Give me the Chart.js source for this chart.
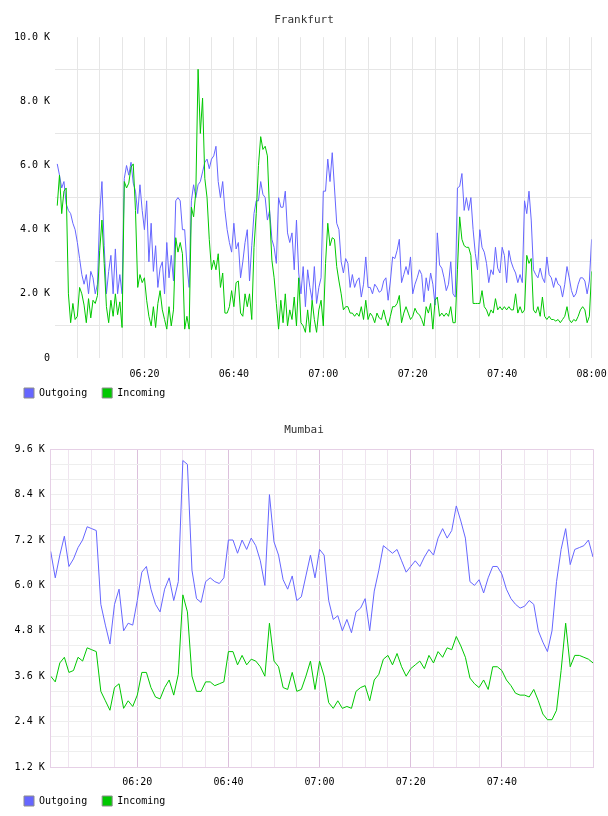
<!DOCTYPE html>
<html>
<head>
<meta charset="utf-8">
<script src="https://cdn.jsdelivr.net/npm/chart.js@4.4.0/dist/chart.umd.min.js"></script>
<style>
  html, body { margin: 0; padding: 0; background: #fff; }
  canvas { display: block; }
</style>
</head>
<body>
<canvas id="frankfurt" width="608" height="410"></canvas>
<canvas id="mumbai" width="608" height="406"></canvas>
<script>
// Frankfurt: una muestra cada 30 s desde 06:00:30 hasta 08:00 (valores en K)
const frankfurtOutgoing = [
  6.05, 5.7, 5.3, 5.5, 4.8, 4.6, 4.5, 4.2, 4.0, 3.6,
  3.1, 2.6, 2.3, 2.6, 2.0, 2.7, 2.5, 2.0, 2.3, 4.5,
  5.5, 3.5, 2.0, 2.7, 3.2, 2.0, 3.4, 2.0, 2.6, 2.0,
  5.6, 6.0, 5.7, 6.1, 5.45, 5.2, 4.5, 5.4, 4.6, 4.0,
  4.9, 3.0, 4.2, 2.7, 3.5, 2.2, 2.8, 3.0, 2.0, 3.6,
  2.5, 3.2, 2.4, 4.9, 5.0, 4.9, 4.0, 4.0, 2.9, 2.2,
  4.9, 5.4, 5.0, 5.4, 5.5, 5.8, 6.1, 6.2, 5.9, 6.2,
  6.3, 6.6, 5.5, 5.0, 5.5, 4.6, 4.0, 3.6, 3.3, 4.2,
  3.4, 3.6, 2.5, 3.0, 3.6, 4.0, 2.4, 3.5, 4.5, 4.9,
  4.9, 5.5, 5.1, 5.0, 4.3, 4.6, 3.7, 3.45, 2.95, 5.0,
  4.7, 4.7, 5.2, 3.9, 3.6, 3.9, 2.75, 4.3, 2.65, 2.0,
  2.85, 1.6, 2.75, 2.2, 1.8, 2.85, 1.7, 2.2, 2.5, 5.2,
  5.2, 6.2, 5.5, 6.4, 5.3, 4.2, 4.0, 3.0, 2.65, 3.1,
  2.95, 2.2, 2.6, 2.2, 2.4, 2.5, 1.9, 2.3, 3.15, 2.2,
  2.2, 2.0, 2.3, 2.2, 2.05, 2.1, 2.4, 2.5, 1.8, 2.4,
  3.15, 3.1, 3.35, 3.7, 2.35, 2.6, 2.85, 2.6, 3.15, 2.0,
  2.3, 2.5, 2.75, 2.6, 1.75, 2.5, 2.1, 2.65, 2.3, 1.65,
  3.9, 2.9, 2.8, 2.5, 2.1, 2.3, 3.0, 2.0, 1.9, 5.3,
  5.35, 5.75, 4.6, 5.0, 4.6, 5.0, 4.0, 3.25, 2.75, 4.0,
  3.45, 3.3, 2.95, 2.35, 2.75, 2.6, 3.45, 2.8, 2.65, 3.45,
  3.2, 2.35, 3.35, 3.0, 2.8, 2.65, 2.35, 2.6, 2.35, 4.9,
  4.5, 5.2, 4.3, 2.75, 2.6, 2.5, 2.8, 2.5, 2.35, 3.15,
  2.6, 2.5, 2.2, 2.5, 2.3, 2.25, 1.9, 2.3, 2.85, 2.5,
  2.1, 1.9, 2.0, 2.3, 2.5, 2.5, 2.4, 2.0, 2.4, 3.7
];
const frankfurtIncoming = [
  4.75, 5.7, 4.5, 5.2, 5.3, 2.0, 1.1, 1.7, 1.2, 1.3,
  2.2, 2.0, 1.65, 1.1, 1.85, 1.25, 1.8, 1.7, 1.95, 3.35,
  4.3, 2.95, 1.6, 1.1, 1.8, 1.3, 2.0, 1.35, 1.75, 0.95,
  5.5, 5.3, 5.45, 5.95, 6.05, 4.6, 2.2, 2.6, 2.35, 2.5,
  1.8, 1.3, 1.0, 1.6, 0.95, 1.7, 2.1, 1.5, 1.2, 0.9,
  1.6, 1.0, 1.5, 3.75, 3.3, 3.6, 3.25, 0.9, 1.3, 0.9,
  4.7, 4.4, 5.2, 9.0, 7.0, 8.1, 5.6, 5.0, 3.7, 2.75,
  3.05, 2.75, 3.25, 2.2, 2.65, 1.4, 1.4, 1.6, 2.1, 1.6,
  2.35, 2.4, 1.4, 1.3, 2.0, 1.6, 2.0, 1.2, 3.45, 4.5,
  6.0, 6.9, 6.5, 6.6, 6.3, 4.5, 3.05, 2.5, 1.7, 0.9,
  1.8, 1.1, 2.0, 1.0, 1.5, 1.2, 1.9, 1.0, 2.5, 1.1,
  1.0, 0.8, 1.5, 0.8, 1.8, 1.2, 0.8, 1.5, 1.8, 1.0,
  2.95, 4.2, 3.5, 3.75, 3.7, 2.85, 2.4, 2.0, 1.5, 1.6,
  1.6, 1.4, 1.4, 1.3, 1.4, 1.3, 1.6, 1.2, 1.8, 1.2,
  1.4, 1.3, 1.1, 1.4, 1.25, 1.2, 1.5, 1.2, 1.0, 1.3,
  1.6, 1.6, 1.7, 1.95, 1.1, 1.4, 1.6, 1.4, 1.2, 1.3,
  1.55, 1.4, 1.35, 1.2, 1.0, 1.6, 1.4, 1.7, 0.9, 1.8,
  1.9, 1.3, 1.4, 1.3, 1.4, 1.3, 1.6, 1.1, 1.1, 2.75,
  4.4, 3.7, 3.5, 3.45, 3.45, 3.2, 1.7, 1.7, 1.7, 1.7,
  2.1, 1.6, 1.5, 1.3, 1.5, 1.4, 1.85, 1.5, 1.6, 1.5,
  1.6, 1.5, 1.6, 1.5, 1.5, 2.0, 1.4, 1.6, 1.4, 1.5,
  3.2, 2.95, 3.1, 1.5, 1.4, 1.6, 1.3, 1.9, 1.3, 1.2,
  1.3, 1.2, 1.2, 1.15, 1.2, 1.1, 1.2, 1.3, 1.6, 1.2,
  1.1, 1.2, 1.15, 1.3, 1.5, 1.6, 1.5, 1.1, 1.3, 2.7
];

// Mumbai: una muestra por minuto desde 06:01 hasta 08:00 (valores en K)
const mumbaiOutgoing = [
  6.9, 6.2, 6.8, 7.3, 6.5, 6.7, 7.0, 7.2, 7.55, 7.5,
  7.45, 5.5, 4.95, 4.45, 5.5, 5.9, 4.8, 5.0, 4.95, 5.6,
  6.35, 6.5, 5.9, 5.5, 5.3, 5.9, 6.2, 5.6, 6.1, 9.3,
  9.2, 6.4, 5.65, 5.55, 6.1, 6.2, 6.1, 6.05, 6.2, 7.2,
  7.2, 6.85, 7.2, 6.95, 7.25, 7.05, 6.65, 6.0, 8.4, 7.15,
  6.8, 6.15, 5.9, 6.25, 5.6, 5.7, 6.25, 6.8, 6.2, 6.95,
  6.8, 5.6, 5.1, 5.2, 4.8, 5.1, 4.75, 5.3, 5.4, 5.65,
  4.8, 5.85, 6.4, 7.05, 6.95, 6.85, 6.95, 6.65, 6.35, 6.5,
  6.65, 6.5, 6.75, 6.95, 6.8, 7.25, 7.5, 7.25, 7.45, 8.1,
  7.7, 7.25, 6.1, 6.0, 6.15, 5.8, 6.2, 6.5, 6.5, 6.3,
  5.9, 5.65, 5.5, 5.4, 5.45, 5.6, 5.5, 4.8, 4.5, 4.25,
  4.8, 6.1, 6.95, 7.5, 6.55, 6.95, 7.0, 7.05, 7.2, 6.75
];
const mumbaiIncoming = [
  3.6, 3.45, 3.95, 4.1, 3.7, 3.75, 4.1, 4.0, 4.35, 4.3,
  4.25, 3.2, 2.95, 2.7, 3.3, 3.4, 2.75, 2.95, 2.8, 3.1,
  3.7, 3.7, 3.3, 3.05, 3.0, 3.3, 3.5, 3.1, 3.65, 5.75,
  5.3, 3.6, 3.2, 3.2, 3.45, 3.45, 3.35, 3.4, 3.45, 4.25,
  4.25, 3.9, 4.15, 3.9, 4.05, 4.0, 3.85, 3.6, 5.0, 4.0,
  3.85, 3.3, 3.25, 3.7, 3.2, 3.25, 3.6, 4.0, 3.25, 4.0,
  3.6, 2.9, 2.75, 2.95, 2.75, 2.8, 2.75, 3.2, 3.3, 3.35,
  2.95, 3.5, 3.65, 4.05, 4.15, 3.9, 4.2, 3.85, 3.6, 3.8,
  3.9, 4.0, 3.8, 4.15, 3.95, 4.25, 4.1, 4.35, 4.3, 4.65,
  4.4, 4.1, 3.55, 3.4, 3.3, 3.5, 3.25, 3.85, 3.85, 3.75,
  3.5, 3.35, 3.15, 3.1, 3.1, 3.05, 3.25, 2.95, 2.6, 2.45,
  2.45, 2.7, 3.75, 5.0, 3.85, 4.15, 4.15, 4.1, 4.05, 3.95
];

// Minutos desde las 06:00
const frankfurtMinutes = frankfurtOutgoing.map((_, i) => (i + 1) * 0.5);
const mumbaiMinutes = mumbaiOutgoing.map((_, i) => i + 1);

// Etiquetas del eje de tiempo
const timeTickMinutes = [20, 40, 60, 80, 100, 120];
const timeTickLabels = ['06:20', '06:40', '07:00', '07:20', '07:40', '08:00'];
const gridMinutes = [5, 10, 15, 20, 25, 30, 35, 40, 45, 50, 55, 60,
  65, 70, 75, 80, 85, 90, 95, 100, 105, 110, 115, 120];

// Eje Y de Mumbai
const mumbaiYTicks = [1.2, 1.6, 2.0, 2.4, 2.8, 3.2, 3.6, 4.0, 4.4, 4.8, 5.2, 5.6,
  6.0, 6.4, 6.8, 7.2, 7.6, 8.0, 8.4, 8.8, 9.2, 9.6];
const mumbaiYLabels = ['1.2 K', '2.4 K', '3.6 K', '4.8 K', '6.0 K', '7.2 K', '8.4 K', '9.6 K'];

const BLUE = '#6666ff';
const GREEN = '#00c800';
const MONO = 'DejaVu Sans Mono';

const toPoints = (xs, ys) => xs.map((x, i) => ({ x: x, y: ys[i] }));

function datasets(xs, outgoing, incoming) {
    return [
        { label: 'Outgoing', data: toPoints(xs, outgoing), borderColor: BLUE, order: 1 },
        { label: 'Incoming', data: toPoints(xs, incoming), borderColor: GREEN, order: 0 }
    ];
}

// Sube la leyenda un poco, pegada a las etiquetas del eje X
const ajusteLeyenda = {
    id: 'ajusteLeyenda',
    afterLayout(chart, args, opts) {
        const l = chart.legend;
        if (!l) return;
        l.top += opts.dy;
        l.bottom += opts.dy;
    }
};

function legendOptions(maxHeight) {
    return {
        position: 'bottom',
        align: 'start',
        maxHeight: maxHeight,
        labels: {
            boxWidth: 10,
            boxHeight: 10,
            padding: 15,
            color: '#000',
            font: { family: MONO, size: 10 },
            generateLabels: chart => chart.data.datasets.map((d, i) => ({
                text: d.label,
                fillStyle: d.borderColor,
                strokeStyle: '#8c8c8c',
                lineWidth: 1,
                hidden: false,
                datasetIndex: i
            }))
        }
    };
}

function titleOptions(text, bottom) {
    return {
        display: true,
        text: text,
        color: '#333',
        font: { family: MONO, size: 11, weight: 'normal' },
        padding: { top: 14, bottom: bottom }
    };
}

const timeLabel = v => {
    const k = timeTickMinutes.indexOf(v);
    return k >= 0 ? timeTickLabels[k] : '';
};

const comunes = {
    responsive: false,
    animation: false,
    elements: {
        line: { borderWidth: 1, tension: 0, fill: false },
        point: { radius: 0 }
    }
};

// Frankfurt
new Chart(document.getElementById('frankfurt'), {
    type: 'line',
    data: { datasets: datasets(frankfurtMinutes, frankfurtOutgoing, frankfurtIncoming) },
    plugins: [ajusteLeyenda],
    options: {
        ...comunes,
        layout: { padding: { left: 9, right: 9, top: 0, bottom: 0 } },
        plugins: {
            tooltip: { enabled: false },
            title: titleOptions('Frankfurt', 10),
            legend: legendOptions(30),
            ajusteLeyenda: { dy: -7 }
        },
        scales: {
            x: {
                type: 'linear', min: 0, max: 120,
                afterBuildTicks: s => { s.ticks = gridMinutes.map(v => ({ value: v })); },
                afterFit: s => { s.height = 22; s.paddingLeft = 0; s.paddingRight = 16.4; },
                border: { display: false },
                grid: { color: '#e6e6e6', drawTicks: false },
                ticks: {
                    autoSkip: false, maxRotation: 0, padding: 10, color: '#000',
                    font: { family: MONO, size: 10 },
                    callback: v => timeLabel(v)
                }
            },
            y: {
                min: 0, max: 10,
                afterFit: s => { s.width = 46; },
                border: { display: false },
                grid: {
                    drawTicks: false,
                    color: c => (c.tick && c.tick.value % 2 === 1) ? '#e6e6e6' : 'rgba(0,0,0,0)'
                },
                ticks: {
                    stepSize: 1, padding: 5, color: '#000', autoSkip: false,
                    font: { family: MONO, size: 10 },
                    callback: v => v % 2 ? '' : (v === 0 ? '0' : v.toFixed(1) + ' K')
                }
            }
        }
    }
});

// Mumbai
new Chart(document.getElementById('mumbai'), {
    type: 'line',
    data: { datasets: datasets(mumbaiMinutes, mumbaiOutgoing, mumbaiIncoming) },
    plugins: [ajusteLeyenda],
    options: {
        ...comunes,
        layout: { padding: { left: 9, right: 9, top: 0, bottom: 0 } },
        plugins: {
            tooltip: { enabled: false },
            title: titleOptions('Mumbai', 12),
            legend: legendOptions(28),
            ajusteLeyenda: { dy: -7 }
        },
        scales: {
            x: {
                type: 'linear', min: 1, max: 120,
                afterBuildTicks: s => { s.ticks = [1].concat(gridMinutes).map(v => ({ value: v })); },
                afterFit: s => { s.height = 21; s.paddingLeft = 0; s.paddingRight = 15; },
                border: { display: true, color: '#e6d0e6' },
                grid: {
                    drawTicks: false,
                    color: c => {
                        const v = c.tick ? c.tick.value : 0;
                        if (v === 1 || v === 120) return '#e6d0e6';
                        return v % 20 === 0 ? '#dcc0dc' : '#efe4ef';
                    }
                },
                ticks: {
                    autoSkip: false, maxRotation: 0, padding: 9, color: '#000',
                    font: { family: MONO, size: 10 },
                    callback: v => (v === 120 ? '' : timeLabel(v))
                }
            },
            y: {
                min: 1.2, max: 9.6,
                afterBuildTicks: s => { s.ticks = mumbaiYTicks.map(v => ({ value: v })); },
                afterFit: s => { s.width = 41.7; },
                border: { display: true, color: '#e6d0e6' },
                grid: {
                    drawTicks: false,
                    color: c => (c.index === mumbaiYTicks.length - 1) ? '#e6d0e6' : '#eeeeee'
                },
                ticks: {
                    padding: 6, color: '#000', autoSkip: false,
                    font: { family: MONO, size: 10 },
                    callback: (v, i) => (i % 3 === 0 ? mumbaiYLabels[i / 3] : '')
                }
            }
        }
    }
});
</script>
</body>
</html>
